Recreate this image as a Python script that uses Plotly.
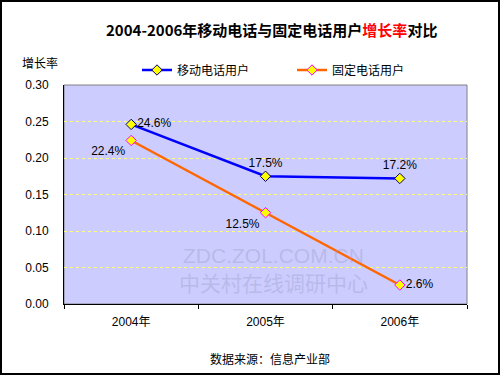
import plotly.graph_objects as go

years = ["2004年", "2005年", "2006年"]
mobile = [0.246, 0.175, 0.172]
fixed = [0.224, 0.125, 0.026]
mobile_labels = ["24.6%", "17.5%", "17.2%"]
fixed_labels = ["22.4%", "12.5%", "2.6%"]
y_ticks = [0.0, 0.05, 0.10, 0.15, 0.20, 0.25, 0.30]

FONT = "Liberation Sans, Noto Sans CJK SC, Arial, sans-serif"

fig = go.Figure()
fig.add_trace(go.Scatter(
    x=years, y=mobile, name="移动电话用户", mode="lines+markers+text",
    text=mobile_labels, textposition=["middle right", "top center", "top center"],
    textfont=dict(size=12, color="black"), cliponaxis=False,
    line=dict(color="#0000FF", width=2.5),
    marker=dict(symbol="diamond", size=8, color="#FFFF00", line=dict(color="#000066", width=1)),
))
fig.add_trace(go.Scatter(
    x=years, y=fixed, name="固定电话用户", mode="lines+markers+text",
    text=fixed_labels, textposition=["bottom left", "bottom left", "middle right"],
    textfont=dict(size=12, color="black"), cliponaxis=False,
    line=dict(color="#FF6600", width=2.5),
    marker=dict(symbol="diamond", size=8, color="#FFFF00", line=dict(color="#FF00FF", width=1)),
))

W, H = 500, 375
L, R, T, B = 64, 33, 85, 71
pw, ph = W - L - R, H - T - B

def px(x):
    return (x - L) / pw

def py(y):
    return (H - B - y) / ph

def note(x, y, text, size=12, family="Noto Sans CJK SC", color="black"):
    return dict(xref="paper", yref="paper", x=px(x), y=py(y), xanchor="center", yanchor="middle",
                showarrow=False, text=text, font=dict(size=size, family=family, color=color))

fig.update_layout(
    width=W, height=H,
    margin=dict(l=L, r=R, t=T, b=B, autoexpand=False),
    paper_bgcolor="white", plot_bgcolor="#CCCCFF",
    font=dict(family=FONT, size=12, color="black"),
    showlegend=True,
    legend=dict(orientation="h", x=px(137), y=py(70), xanchor="left", yanchor="middle",
                bgcolor="rgba(0,0,0,0)", font=dict(size=12, family="Noto Sans CJK SC"),
                entrywidth=110, itemwidth=30),
    xaxis=dict(type="category", range=[-0.5, 2.5], showline=True, linecolor="black", linewidth=1,
               ticks="outside", tickson="boundaries", ticklen=4, tickcolor="black",
               showgrid=False, tickfont=dict(size=12, family=FONT), fixedrange=True,
               automargin=False, ticklabelstandoff=7),
    yaxis=dict(range=[0, 0.30], tickvals=y_ticks, tickformat=".2f",
               showline=True, linecolor="black", linewidth=1, ticks="",
               showgrid=True, gridcolor="#FFFF80", griddash="3px,3px", gridwidth=1,
               zeroline=False, tickfont=dict(size=12, family=FONT), fixedrange=True,
               automargin=False, ticklabelstandoff=12),
    shapes=[
        dict(type="rect", xref="paper", yref="paper", x0=0, x1=1, y0=0, y1=1,
             line=dict(color="#808080", width=1), layer="below"),
        dict(type="rect", xref="paper", yref="paper", x0=px(1), x1=px(499), y0=py(374), y1=py(1),
             line=dict(color="black", width=2)),
    ],
    annotations=[
        note(271, 30, "<b>2004-2006年移动电话与固定电话用户<span style='color:#FF0000'>增长率</span>对比</b>", size=15),
        note(40, 63, "增长率"),
        note(270, 358, "数据来源：信息产业部"),
        note(273, 255, "ZDC.ZOL.COM.CN", size=21, family="Liberation Sans", color="rgba(150,150,190,0.35)"),
        note(273, 282, "中关村在线调研中心", size=21, color="rgba(150,150,190,0.35)"),
    ],
)

fig.write_html("out.html", config={"displayModeBar": False},
               post_script="document.body.style.margin='0';document.body.style.padding='0';")
